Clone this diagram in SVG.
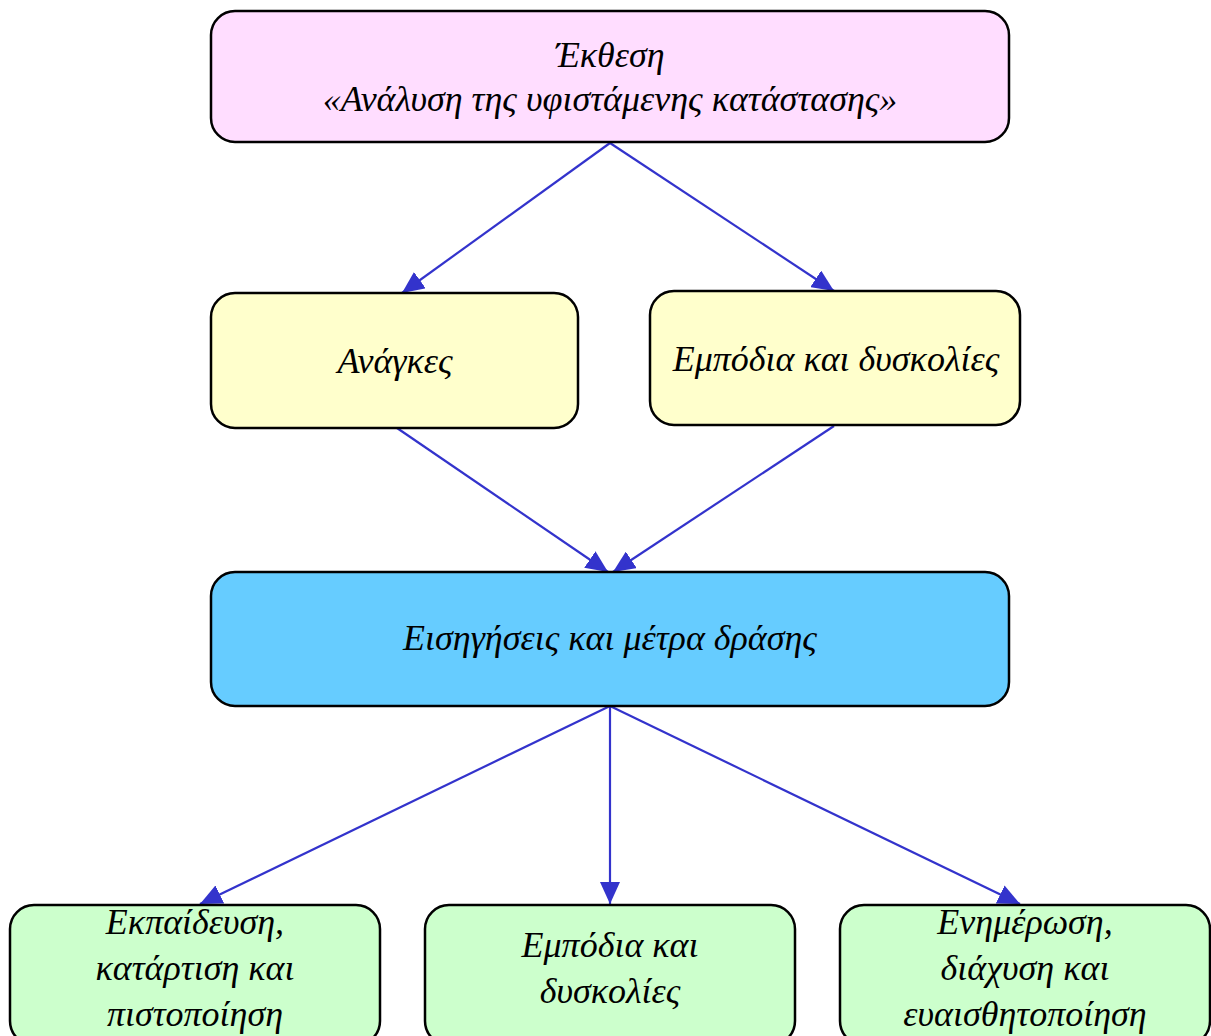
<svg xmlns="http://www.w3.org/2000/svg" width="1211" height="1036" viewBox="0 0 1211 1036">
<style>
.box{stroke:#000;stroke-width:2.5}
.t{font-family:"Liberation Serif","DejaVu Serif",serif;font-style:italic;font-size:36px;fill:#000;text-anchor:middle}
.c{stroke:#3333CC;stroke-width:2.2;fill:none;marker-end:url(#ah)}
</style>
<defs>
<marker id="ah" markerUnits="userSpaceOnUse" markerWidth="22" markerHeight="20" viewBox="0 0 22 20" refX="22" refY="10" orient="auto">
<path d="M0,0 L22,10 L0,20 z" fill="#3333CC"/>
</marker>
</defs>
<rect width="1211" height="1036" fill="#fff"/>
<g id="connectors">
<line class="c" x1="610" y1="143" x2="402" y2="293"/>
<line class="c" x1="610" y1="143" x2="834" y2="291"/>
<line class="c" x1="397" y1="428" x2="608" y2="572"/>
<line class="c" x1="834" y1="426" x2="613" y2="572"/>
<line class="c" x1="610" y1="706" x2="200" y2="904"/>
<line class="c" x1="610" y1="706" x2="610" y2="904"/>
<line class="c" x1="610" y1="706" x2="1020" y2="904"/>
</g>
<g id="report">
<rect class="box" x="211" y="11" width="798" height="131" rx="24" fill="#FFDDFF"/>
<text class="t" x="610" y="67">Έκθεση</text>
<text class="t" x="610" y="111">«Ανάλυση της υφιστάμενης κατάστασης»</text>
</g>
<g id="needs">
<rect class="box" x="211" y="293" width="367" height="135" rx="24" fill="#FFFFCC"/>
<text class="t" x="395" y="373">Ανάγκες</text>
</g>
<g id="obstacles">
<rect class="box" x="650" y="291" width="370" height="134" rx="24" fill="#FFFFCC"/>
<text class="t" x="836" y="371">Εμπόδια και δυσκολίες</text>
</g>
<g id="proposals">
<rect class="box" x="211" y="572" width="798" height="134" rx="24" fill="#66CCFF"/>
<text class="t" x="610" y="650">Εισηγήσεις και μέτρα δράσης</text>
</g>
<g id="training">
<rect class="box" x="10" y="905" width="370" height="140" rx="24" fill="#CCFFCC"/>
<text class="t" x="195" y="934">Εκπαίδευση,</text>
<text class="t" x="195" y="980">κατάρτιση και</text>
<text class="t" x="195" y="1026">πιστοποίηση</text>
</g>
<g id="obstacles2">
<rect class="box" x="425" y="905" width="370" height="140" rx="24" fill="#CCFFCC"/>
<text class="t" x="610" y="957">Εμπόδια και</text>
<text class="t" x="610" y="1003">δυσκολίες</text>
</g>
<g id="information">
<rect class="box" x="840" y="905" width="370" height="140" rx="24" fill="#CCFFCC"/>
<text class="t" x="1025" y="934">Ενημέρωση,</text>
<text class="t" x="1025" y="980">διάχυση και</text>
<text class="t" x="1025" y="1026">ευαισθητοποίηση</text>
</g>
</svg>
